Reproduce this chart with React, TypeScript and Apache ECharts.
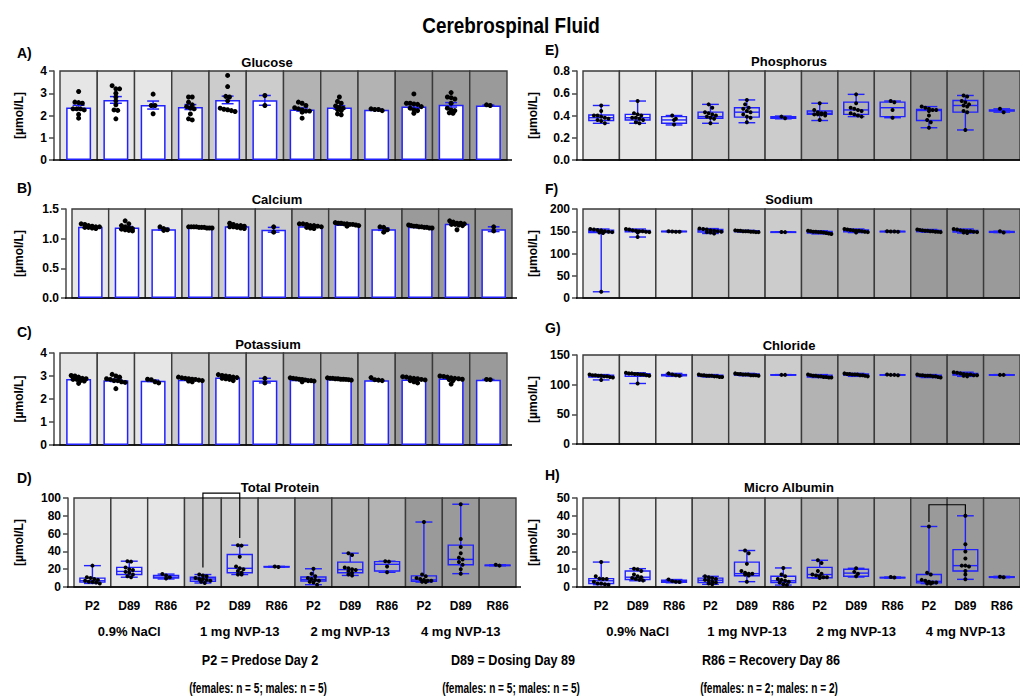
import React, { useEffect, useRef } from 'react';
import * as echarts from 'echarts';

// ---------- DATA ----------
const CATS = ['P2', 'D89', 'R86', 'P2', 'D89', 'R86', 'P2', 'D89', 'R86', 'P2', 'D89', 'R86'];
const GROUPS = ['0.9% NaCl', '1 mg NVP-13', '2 mg NVP-13', '4 mg NVP-13'];
const GROUP_SHADES = ['#e6e6e6', '#cccccc', '#b3b3b3', '#9a9a9a'];
const Y_NAME = '[µmol/L]';

// A) Glucose (mean ± SEM + individual values)
const glucoseMean = [2.36, 2.7, 2.47, 2.38, 2.7, 2.68, 2.27, 2.36, 2.26, 2.4, 2.48, 2.45];
const glucoseSem = [0.1, 0.15, 0.18, 0.11, 0.17, 0.22, 0.07, 0.08, 0.02, 0.08, 0.1, 0.02];
const glucosePts = [
  [3.08, 2.6, 2.55, 2.58, 2.3, 2.3, 2.25, 2.3, 2.05, 1.88],
  [3.34, 3.2, 3.2, 3.0, 2.83, 2.66, 2.48, 2.25, 2.23, 1.85],
  [2.96, 2.45, 2.45, 2.08],
  [2.83, 2.83, 2.6, 2.48, 2.4, 2.33, 2.3, 2.07, 1.85, 1.8],
  [3.8, 3.3, 2.86, 2.83, 2.66, 2.33, 2.28, 2.26, 2.22, 2.18],
  [2.9, 2.45],
  [2.6, 2.55, 2.45, 2.35, 2.3, 2.25, 2.2, 2.2, 2.15, 1.88],
  [2.83, 2.63, 2.55, 2.43, 2.36, 2.33, 2.27, 2.22, 2.07, 2.03],
  [2.22, 2.3, 2.27, 2.27],
  [2.97, 2.55, 2.55, 2.52, 2.5, 2.4, 2.33, 2.25, 2.22, 2.1],
  [3.03, 2.83, 2.8, 2.74, 2.55, 2.33, 2.25, 2.22, 2.12, 2.1],
  [2.45, 2.48],
];

// B) Calcium
const calciumMean = [1.2, 1.19, 1.16, 1.19, 1.21, 1.15, 1.21, 1.24, 1.16, 1.2, 1.25, 1.16];
const calciumSem = [0.01, 0.015, 0.015, 0.008, 0.012, 0.04, 0.015, 0.01, 0.02, 0.01, 0.013, 0.04];
const calciumPts = [
  [1.22, 1.24, 1.25, 1.2, 1.19, 1.21, 1.18, 1.17, 1.2, 1.19],
  [1.3, 1.25, 1.22, 1.2, 1.18, 1.16, 1.15, 1.14, 1.17, 1.13],
  [1.2, 1.17, 1.15, 1.14],
  [1.2, 1.2, 1.19, 1.18, 1.2, 1.19, 1.18, 1.19, 1.2, 1.18],
  [1.26, 1.24, 1.22, 1.2, 1.21, 1.19, 1.17, 1.22, 1.2, 1.18],
  [1.2, 1.11],
  [1.25, 1.24, 1.22, 1.21, 1.2, 1.18, 1.17, 1.22, 1.25, 1.19],
  [1.27, 1.26, 1.25, 1.24, 1.23, 1.25, 1.22, 1.21, 1.26, 1.24],
  [1.2, 1.19, 1.15, 1.11],
  [1.23, 1.22, 1.21, 1.2, 1.19, 1.18, 1.19, 1.2, 1.21, 1.18],
  [1.3, 1.28, 1.26, 1.25, 1.24, 1.23, 1.22, 1.26, 1.15, 1.24],
  [1.2, 1.13],
];

// C) Potassium
const potassiumMean = [2.87, 2.81, 2.79, 2.84, 2.94, 2.8, 2.84, 2.87, 2.82, 2.85, 2.89, 2.84];
const potassiumSem = [0.03, 0.05, 0.03, 0.02, 0.03, 0.1, 0.02, 0.01, 0.02, 0.03, 0.03, 0.01];
const potassiumPts = [
  [3.02, 3.0, 2.95, 2.9, 2.88, 2.85, 2.85, 2.8, 2.78, 2.68],
  [3.07, 3.0, 2.95, 2.88, 2.85, 2.8, 2.8, 2.75, 2.72, 2.45],
  [2.86, 2.84, 2.75, 2.7],
  [2.95, 2.92, 2.9, 2.88, 2.86, 2.85, 2.82, 2.8, 2.78, 2.75],
  [3.06, 3.02, 3.0, 2.98, 2.95, 2.93, 2.9, 2.88, 2.85, 2.8],
  [2.9, 2.7],
  [2.92, 2.9, 2.88, 2.86, 2.85, 2.83, 2.8, 2.8, 2.78, 2.75],
  [2.92, 2.9, 2.9, 2.88, 2.88, 2.86, 2.86, 2.85, 2.84, 2.82],
  [2.93, 2.84, 2.82, 2.8],
  [2.97, 2.95, 2.92, 2.9, 2.88, 2.85, 2.83, 2.8, 2.75, 2.7],
  [3.0, 2.98, 2.95, 2.92, 2.9, 2.88, 2.86, 2.84, 2.8, 2.65],
  [2.85, 2.84],
];

// D) Total Protein (box: min, Q1, median, Q3, max)
const proteinBox = [
  [4, 5.5, 7, 10, 24],
  [11, 14, 17.5, 22, 29],
  [9, 10, 11, 13, 14.5],
  [4.5, 6.5, 9, 11, 14],
  [14, 16, 21, 36.5, 47],
  [22.2, 22.4, 22.7, 23, 23.2],
  [2.6, 6.7, 8.5, 11.2, 20.5],
  [13, 16, 19.5, 28, 38],
  [16.5, 18, 25.5, 28.5, 29],
  [5.5, 6.5, 8, 12.5, 73],
  [15, 25, 31, 47, 93],
  [23.8, 24, 24.3, 24.6, 25],
];
const proteinPts = [
  [24, 11, 10, 9, 8, 7, 6, 5.5, 5, 4],
  [29, 28.5, 22, 20, 19, 17, 16, 14, 12, 11],
  [14.5, 13, 11, 9.5],
  [14, 13, 12, 10, 9, 9, 8, 7, 6, 4.5],
  [47, 46.5, 34, 23, 21, 20, 18, 16, 14, 14],
  [22.5, 23],
  [20.5, 15, 12, 10, 9, 8, 7, 6, 5, 2.6],
  [38, 36, 22, 21, 20, 19, 18, 16, 14, 13],
  [29, 28.5, 23, 16.5],
  [73, 14, 12, 10, 9, 8, 7, 7, 6, 5.5],
  [93, 54, 45, 38, 33, 31, 28, 25, 20, 15],
  [24, 25],
];
const proteinBracket = [3, 4, 105.5, 22, 55]; // from col, to col, top, left end, right end

// E) Phosphorus
const phosphorusBox = [
  [0.33, 0.355, 0.38, 0.405, 0.49],
  [0.33, 0.36, 0.38, 0.41, 0.53],
  [0.315, 0.33, 0.36, 0.39, 0.4],
  [0.33, 0.375, 0.39, 0.43, 0.5],
  [0.335, 0.385, 0.43, 0.47, 0.54],
  [0.37, 0.375, 0.383, 0.39, 0.395],
  [0.355, 0.41, 0.42, 0.44, 0.51],
  [0.39, 0.41, 0.45, 0.52, 0.59],
  [0.38, 0.39, 0.47, 0.52, 0.53],
  [0.29, 0.355, 0.445, 0.455, 0.48],
  [0.27, 0.43, 0.49, 0.535, 0.58],
  [0.43, 0.44, 0.445, 0.45, 0.46],
];
const phosphorusPts = [
  [0.49, 0.44, 0.4, 0.4, 0.39, 0.38, 0.37, 0.36, 0.35, 0.33],
  [0.53, 0.42, 0.41, 0.4, 0.38, 0.38, 0.37, 0.36, 0.34, 0.33],
  [0.4, 0.37, 0.36, 0.32],
  [0.5, 0.47, 0.43, 0.42, 0.41, 0.4, 0.39, 0.38, 0.37, 0.33],
  [0.54, 0.5, 0.47, 0.46, 0.44, 0.43, 0.41, 0.39, 0.38, 0.34],
  [0.39, 0.375],
  [0.51, 0.45, 0.43, 0.42, 0.42, 0.41, 0.41, 0.41, 0.4, 0.36],
  [0.59, 0.51, 0.47, 0.46, 0.45, 0.44, 0.42, 0.41, 0.4, 0.39],
  [0.53, 0.52, 0.45, 0.38],
  [0.48, 0.47, 0.46, 0.45, 0.45, 0.44, 0.4, 0.36, 0.34, 0.29],
  [0.58, 0.57, 0.53, 0.52, 0.5, 0.49, 0.48, 0.44, 0.43, 0.27],
  [0.46, 0.43],
];

// F) Sodium
const sodiumBox = [
  [14, 147, 149.5, 152.5, 155],
  [137, 148.5, 150, 152, 155],
  [149, 149, 149.5, 150, 150],
  [145, 148, 150.5, 154, 156],
  [148, 149, 150, 151, 152],
  [148, 148, 148.3, 148.5, 148.5],
  [144, 146, 148, 149.5, 151],
  [147, 149, 151, 153, 155],
  [149, 149.2, 149.5, 149.8, 150],
  [148, 149, 150.5, 152, 154],
  [146, 148, 150, 152, 155],
  [147, 147.5, 148.5, 149.5, 150],
];
const sodiumPts = [
  [155, 154, 153, 152, 150, 149, 148, 147, 146, 14],
  [155, 154, 152, 151, 150, 150, 149, 148, 147, 137],
  [150, 149.5, 149, 149],
  [156, 155, 154, 152, 151, 150, 149, 148, 147, 145],
  [152, 151, 151, 150, 150, 150, 149, 149, 148, 148],
  [148.5, 148],
  [151, 150, 149, 149, 148, 148, 147, 146, 145, 144],
  [155, 154, 153, 152, 151, 151, 150, 149, 148, 147],
  [150, 149.5, 149.5, 149],
  [154, 153, 152, 151, 151, 150, 150, 149, 149, 148],
  [155, 154, 152, 151, 150, 150, 149, 148, 147, 146],
  [150, 147],
];

// G) Chloride
const chlorideBox = [
  [108, 113, 114.5, 116, 117],
  [102, 114, 117, 118.5, 120],
  [114, 115, 116, 117, 119],
  [113, 114, 115, 116, 117],
  [115, 116, 117, 118, 119],
  [116, 116.2, 116.5, 116.8, 117],
  [112, 113, 114, 116, 117],
  [114, 116, 117, 118, 119],
  [116, 116.2, 116.5, 116.8, 117],
  [112, 113.5, 115, 116, 117],
  [114, 116, 117, 119, 121],
  [116, 116.2, 116.5, 116.8, 117],
];
const chloridePts = [
  [117, 116, 116, 115, 115, 114, 114, 113, 112, 108],
  [120, 119, 119, 118, 118, 117, 117, 116, 115, 102],
  [119, 117, 116, 115],
  [117, 116, 116, 115, 115, 115, 114, 114, 113, 113],
  [119, 118, 118, 117, 117, 117, 116, 116, 116, 115],
  [116.5, 116.5],
  [117, 116, 115, 115, 114, 114, 113, 113, 112, 112],
  [119, 118, 118, 117, 117, 117, 116, 116, 115, 114],
  [117, 116.5, 116.5, 116],
  [117, 116, 116, 115, 115, 115, 114, 114, 113, 112],
  [121, 120, 119, 118, 117, 117, 116, 116, 115, 114],
  [116.5, 116.5],
];

// H) Micro Albumin
const albuminBox = [
  [1.3, 2, 3.5, 4.7, 14],
  [3.5, 4.2, 5.5, 9, 10.3],
  [2.4, 2.7, 3.2, 3.8, 4.2],
  [1.5, 2.5, 3.8, 5, 6],
  [3, 6.3, 7.5, 14, 20.5],
  [1.1, 2.5, 3.5, 6, 10.7],
  [5, 5.2, 7, 11, 15],
  [5.6, 6, 7.8, 10, 10.5],
  [5, 5.2, 5.3, 5.4, 5.6],
  [1.9, 2.3, 3.2, 7, 34],
  [4.3, 9, 12, 21, 40],
  [5.2, 5.4, 5.6, 5.8, 6],
];
const albuminPts = [
  [14, 6, 4.7, 4.5, 4.5, 3, 2, 2, 1.5, 1.3],
  [10.3, 10, 9, 7, 6, 5.5, 5, 4.5, 4, 3.7],
  [4.2, 3.3, 3, 2.8],
  [6, 5.5, 5, 4.5, 4, 3.7, 3, 2.5, 2, 1.5],
  [20.5, 19, 13, 9, 8, 7.5, 7.5, 7, 6.5, 3],
  [10.7, 7, 6, 4.5, 4, 3.5, 3, 2.5, 1.5, 1.1],
  [15, 13.5, 9, 7.5, 7, 6.5, 6, 5.5, 5.5, 5],
  [10.5, 8.5, 7.5, 6],
  [5.3, 5.6],
  [34, 8, 7, 4, 3.5, 3, 2.5, 2.5, 2, 1.9],
  [40, 24, 20, 16, 12, 11.5, 12, 9, 7, 4.3],
  [5.5, 5.8],
];
const albuminBracket = [9, 10, 46.2, 36.5, 40.3];

const NOTES_ROW1 = ['P2 = Predose Day 2', 'D89 = Dosing Day 89', 'R86 = Recovery Day 86'];
const NOTES_ROW2 = ['(females: n = 5; males: n = 5)', '(females: n = 5; males: n = 5)', '(females: n = 2; males: n = 2)'];

// ---------- LAYOUT / STYLE ----------
const BLUE = '#2121ff';
const FONT = '"Liberation Sans", Arial, Helvetica, sans-serif';

type Panel = {
  letter: string; title: string; kind: 'bar' | 'box';
  grid: number[]; yMax: number; yInterval: number; dec: number; nameGap: number;
  titleX: number; titleY: number; letterX: number; letterY: number;
  mean?: number[]; sem?: number[]; box?: number[][]; points: number[][];
  bracket?: number[]; showX?: boolean;
};

const PANELS: Panel[] = [
  { letter: 'A)', title: 'Glucose', kind: 'bar', grid: [60, 71, 447, 89], yMax: 4, yInterval: 1, dec: 0, nameGap: 29,
    titleX: 267, titleY: 62, letterX: 17, letterY: 53, mean: glucoseMean, sem: glucoseSem, points: glucosePts },
  { letter: 'B)', title: 'Calcium', kind: 'bar', grid: [72, 209, 440, 89], yMax: 1.5, yInterval: 0.5, dec: 1, nameGap: 41,
    titleX: 277, titleY: 199.5, letterX: 17, letterY: 188, mean: calciumMean, sem: calciumSem, points: calciumPts },
  { letter: 'C)', title: 'Potassium', kind: 'bar', grid: [60, 353, 447, 92], yMax: 4, yInterval: 1, dec: 0, nameGap: 29,
    titleX: 268, titleY: 344, letterX: 17, letterY: 332, mean: potassiumMean, sem: potassiumSem, points: potassiumPts },
  { letter: 'D)', title: 'Total Protein', kind: 'box', grid: [74, 498, 442, 89], yMax: 100, yInterval: 20, dec: 0, nameGap: 43,
    titleX: 280, titleY: 487.5, letterX: 17, letterY: 478, box: proteinBox, points: proteinPts, bracket: proteinBracket, showX: true },
  { letter: 'E)', title: 'Phosphorus', kind: 'box', grid: [583, 71, 441, 89], yMax: 0.8, yInterval: 0.2, dec: 1, nameGap: 38,
    titleX: 789, titleY: 61.5, letterX: 545, letterY: 50, box: phosphorusBox, points: phosphorusPts },
  { letter: 'F)', title: 'Sodium', kind: 'box', grid: [583, 209, 441, 89], yMax: 200, yInterval: 50, dec: 0, nameGap: 38,
    titleX: 789, titleY: 199.5, letterX: 545, letterY: 189, box: sodiumBox, points: sodiumPts },
  { letter: 'G)', title: 'Chloride', kind: 'box', grid: [583, 355, 441, 89], yMax: 150, yInterval: 50, dec: 0, nameGap: 38,
    titleX: 789, titleY: 345.5, letterX: 545, letterY: 328, box: chlorideBox, points: chloridePts },
  { letter: 'H)', title: 'Micro Albumin', kind: 'box', grid: [583, 498, 441, 89], yMax: 50, yInterval: 10, dec: 0, nameGap: 38,
    titleX: 789, titleY: 487.5, letterX: 545, letterY: 475, box: albuminBox, points: albuminPts, bracket: albuminBracket, showX: true },
];

// spread points that share nearly the same value side by side (beeswarm-like)
function swarm(vals: number[], thr: number): number[] {
  const idx = vals.map((_, k) => k).sort((a, b) => vals[b] - vals[a]);
  const off = new Array(vals.length).fill(0);
  let k = 0;
  while (k < idx.length) {
    const start = vals[idx[k]];
    const bin = [idx[k]];
    let j = k + 1;
    while (j < idx.length && start - vals[idx[j]] < thr) { bin.push(idx[j]); j++; }
    const m = bin.length;
    let step = 0.1;
    if ((m - 1) * step > 0.64) step = 0.64 / (m - 1);
    bin.forEach((id, t) => { off[id] = (t - (m - 1) / 2) * step; });
    k = j;
  }
  return off;
}

function renderBg(params: any, api: any) {
  const i = api.value(0);
  const c = api.coord([i, 0]);
  const w = api.size([1, 0])[0];
  const cs = params.coordSys;
  const children: any[] = [{
    type: 'rect',
    shape: { x: c[0] - w / 2, y: cs.y, width: w, height: cs.height },
    style: { fill: GROUP_SHADES[Math.floor(i / 3)], stroke: '#3a3a3a', lineWidth: 1.4 },
  }];
  if (i === CATS.length - 1) {
    children.push({
      type: 'line',
      shape: { x1: cs.x - 7, y1: cs.y + cs.height, x2: cs.x + cs.width + 5, y2: cs.y + cs.height },
      style: { stroke: '#000', lineWidth: 1.3 },
    });
  }
  return { type: 'group', children };
}

function renderErr(params: any, api: any) {
  const i = api.value(0), m = api.value(1), s = api.value(2);
  const t = api.coord([i, m + s]);
  const b = api.coord([i, m - s]);
  const half = api.size([1, 0])[0] * 0.16;
  const st = { stroke: BLUE, lineWidth: 1.5 };
  return {
    type: 'group', children: [
      { type: 'line', shape: { x1: t[0], y1: t[1], x2: b[0], y2: b[1] }, style: st },
      { type: 'line', shape: { x1: t[0] - half, y1: t[1], x2: t[0] + half, y2: t[1] }, style: st },
      { type: 'line', shape: { x1: b[0] - half, y1: b[1], x2: b[0] + half, y2: b[1] }, style: st },
    ],
  };
}

function renderBox(params: any, api: any) {
  const i = api.value(0);
  const pMin = api.coord([i, api.value(1)]);
  const pQ1 = api.coord([i, api.value(2)]);
  const pMed = api.coord([i, api.value(3)]);
  const pQ3 = api.coord([i, api.value(4)]);
  const pMax = api.coord([i, api.value(5)]);
  const bw = api.size([1, 0])[0];
  const hb = bw * 0.34;
  const hc = bw * 0.23;
  const x = pMed[0];
  const st = { stroke: BLUE, lineWidth: 1.4, fill: 'none' };
  return {
    type: 'group', children: [
      { type: 'line', shape: { x1: x, y1: pMax[1], x2: x, y2: pQ3[1] }, style: st },
      { type: 'line', shape: { x1: x, y1: pQ1[1], x2: x, y2: pMin[1] }, style: st },
      { type: 'line', shape: { x1: x - hc, y1: pMax[1], x2: x + hc, y2: pMax[1] }, style: st },
      { type: 'line', shape: { x1: x - hc, y1: pMin[1], x2: x + hc, y2: pMin[1] }, style: st },
      { type: 'rect', shape: { x: x - hb, y: pQ3[1], width: 2 * hb, height: Math.max(pQ1[1] - pQ3[1], 0.5) }, style: st },
      { type: 'line', shape: { x1: x - hb, y1: pMed[1], x2: x + hb, y2: pMed[1] }, style: st },
    ],
  };
}

function makeRenderPts(r: number) {
  return (params: any, api: any) => {
    const i = api.value(0);
    const c = api.coord([i, api.value(1)]);
    const w = api.size([1, 0])[0];
    return { type: 'circle', shape: { cx: c[0] + api.value(2) * w, cy: c[1], r }, style: { fill: '#000' } };
  };
}

function renderBracket(params: any, api: any) {
  const a = api.value(0), b = api.value(1), top = api.value(2), l = api.value(3), rr = api.value(4);
  const p1 = api.coord([a, l]);
  const p2 = api.coord([a, top]);
  const p3 = api.coord([b, top]);
  const p4 = api.coord([b, rr]);
  return {
    type: 'polyline',
    shape: { points: [p1, p2, p3, p4] },
    style: { stroke: '#000', lineWidth: 1.2, fill: 'none' },
  };
}

function buildOption() {
  const grid: any[] = [];
  const xAxis: any[] = [];
  const yAxis: any[] = [];
  const series: any[] = [];
  const graphic: any[] = [];

  PANELS.forEach((p, pi) => {
    grid.push({ left: p.grid[0], top: p.grid[1], width: p.grid[2], height: p.grid[3] });
    const xi = xAxis.length;
    xAxis.push({
      gridIndex: pi, type: 'category', data: CATS, boundaryGap: true,
      axisLine: { show: false }, axisTick: { show: false }, splitLine: { show: false },
      axisLabel: { show: !!p.showX, interval: 0, margin: 13, fontSize: 12, fontWeight: 'bold', color: '#000', fontFamily: FONT },
    });
    if (p.showX) {
      xAxis.push({
        gridIndex: pi, type: 'category', data: GROUPS, position: 'bottom', offset: 25,
        axisLine: { show: false }, axisTick: { show: false }, splitLine: { show: false },
        axisLabel: { interval: 0, margin: 13, fontSize: 13, fontWeight: 'bold', color: '#000', fontFamily: '"Liberation Sans Narrow", "Arial Narrow", ' + FONT },
      });
    }
    yAxis.push({
      gridIndex: pi, type: 'value', min: 0, max: p.yMax, interval: p.yInterval, offset: 6,
      axisLine: { show: true, lineStyle: { color: '#4a4a4a', width: 1.5 } },
      axisTick: { show: true, length: 5, lineStyle: { color: '#4a4a4a', width: 1.5 } },
      splitLine: { show: false },
      axisLabel: { margin: 7, fontSize: 12, fontWeight: 'bold', color: '#000', fontFamily: FONT,
        formatter: (v: number) => v.toFixed(p.dec) },
      name: Y_NAME, nameLocation: 'middle', nameGap: p.nameGap,
      nameTextStyle: { fontSize: 12, fontWeight: 'bold', color: '#000', fontFamily: FONT },
    });
    const base = { xAxisIndex: xi, yAxisIndex: pi };
    series.push({ type: 'custom', ...base, renderItem: renderBg, data: CATS.map((_, i) => [i, 0]),
      encode: { x: 0, y: 1 }, z: 1, silent: true, clip: false });
    if (p.kind === 'bar') {
      series.push({ type: 'bar', ...base, data: p.mean, barWidth: '67%', silent: true, z: 2,
        itemStyle: { color: '#ffffff', borderColor: BLUE, borderWidth: 1.5 } });
      series.push({ type: 'custom', ...base, renderItem: renderErr,
        data: (p.mean as number[]).map((m, i) => [i, m, (p.sem as number[])[i]]),
        encode: { x: 0, y: 1 }, z: 3, silent: true, clip: false });
    } else {
      series.push({ type: 'custom', ...base, renderItem: renderBox,
        data: (p.box as number[][]).map((b, i) => [i, ...b]),
        encode: { x: 0, y: [1, 2, 3, 4, 5] }, z: 3, silent: true, clip: false });
    }
    const pts: number[][] = [];
    p.points.forEach((col, i) => {
      const off = swarm(col, p.yMax * 0.04);
      col.forEach((v, k) => pts.push([i, v, off[k]]));
    });
    series.push({ type: 'custom', ...base, renderItem: makeRenderPts(p.kind === 'bar' ? 2.5 : 2.0),
      data: pts, encode: { x: 0, y: 1 }, z: 4, silent: true, clip: false });
    if (p.bracket) {
      series.push({ type: 'custom', ...base, renderItem: renderBracket, data: [p.bracket],
        encode: { x: [0, 1], y: [2, 3, 4] }, z: 5, silent: true, clip: false });
    }

    graphic.push({ type: 'text', x: p.letterX, y: p.letterY,
      style: { text: p.letter, fill: '#000', font: 'bold 14px ' + FONT, textAlign: 'left', textVerticalAlign: 'middle' } });
    graphic.push({ type: 'text', x: p.titleX, y: p.titleY,
      style: { text: p.title, fill: '#000', font: 'bold 13px ' + FONT, textAlign: 'center', textVerticalAlign: 'middle' } });
  });

  graphic.push({ type: 'text', x: 511, y: 25, scaleX: 0.86,
    style: { text: 'Cerebrospinal Fluid', fill: '#000', font: 'bold 22px ' + FONT, textAlign: 'center', textVerticalAlign: 'middle' } });
  const noteX = [260, 513, 771];
  NOTES_ROW1.forEach((t, k) => graphic.push({ type: 'text', x: noteX[k], y: 660, scaleX: 0.9,
    style: { text: t, fill: '#000', font: 'bold 14px ' + FONT, textAlign: 'center', textVerticalAlign: 'middle' } }));
  NOTES_ROW2.forEach((t, k) => graphic.push({ type: 'text', x: noteX[k] - 2, y: 688, scaleX: 0.72,
    style: { text: t, fill: '#000', font: 'bold 14px ' + FONT, textAlign: 'center', textVerticalAlign: 'middle' } }));

  return {
    animation: false,
    backgroundColor: '#ffffff',
    textStyle: { fontFamily: FONT },
    grid, xAxis, yAxis, series, graphic,
  };
}

export default function App() {
  const ref = useRef<HTMLDivElement>(null);
  useEffect(() => {
    const chart = echarts.init(ref.current as HTMLDivElement, null, { renderer: 'svg' });
    chart.setOption(buildOption() as any);
    return () => chart.dispose();
  }, []);
  return <div ref={ref} style={{ position: 'absolute', left: 0, top: 0, width: 1020, height: 696, background: '#fff' }} />;
}
